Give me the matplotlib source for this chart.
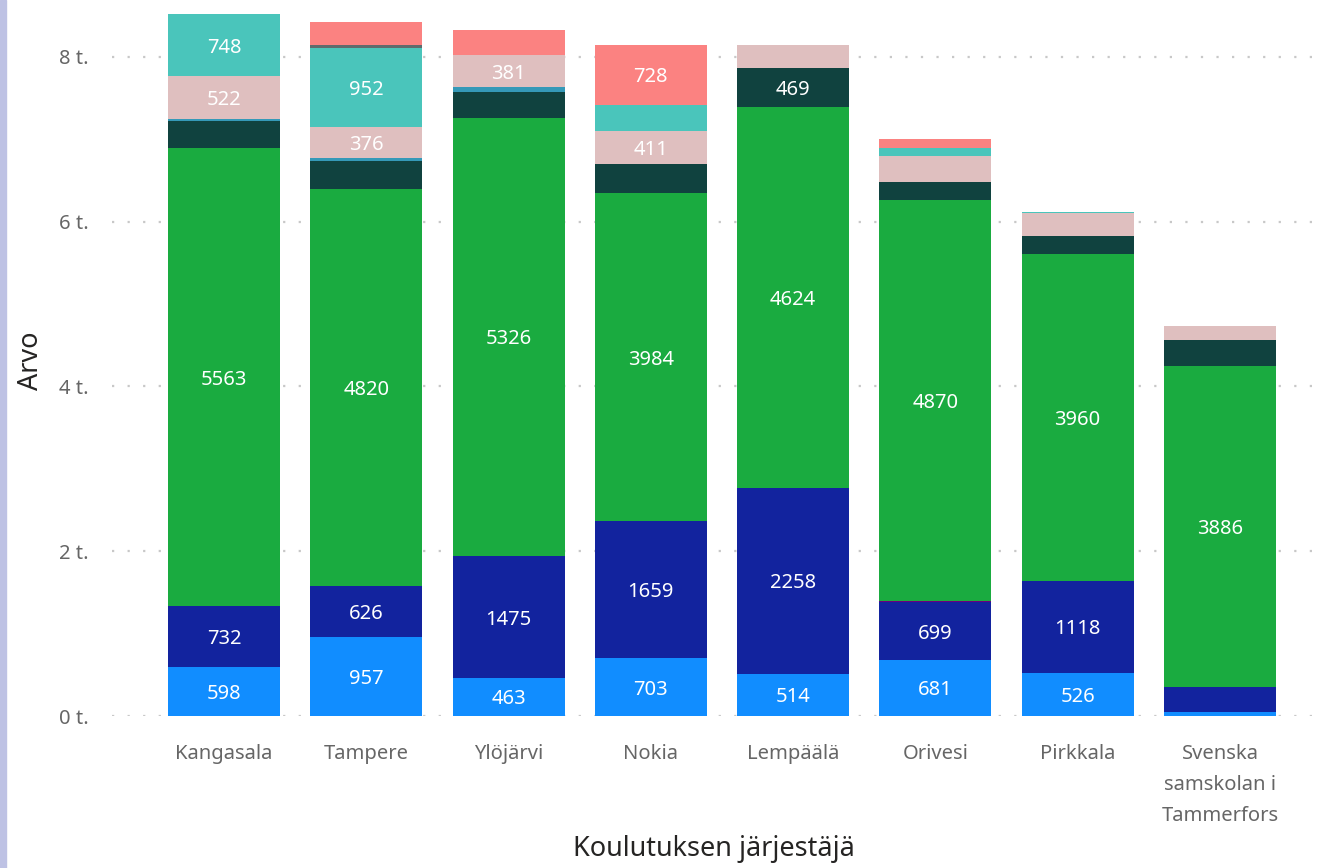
import matplotlib.pyplot as plt
import matplotlib.patches as mpatches
import numpy as np

plt.rcParams['font.family'] = ['Noto Sans', 'DejaVu Sans']

# data (bottom segment first)
jarjestajat = ['Kangasala', 'Tampere', 'Ylöjärvi', 'Nokia', 'Lempäälä',
               'Orivesi', 'Pirkkala', 'Svenska\nsamskolan i\nTammerfors']

vaaleansininen = [598, 957, 463, 703, 514, 681, 526, 50]
tummansininen = [732, 626, 1475, 1659, 2258, 699, 1118, 300]
violetti = [0, 0, 0, 0, 0, 10, 0, 8]
vihrea = [5563, 4820, 5326, 3984, 4624, 4870, 3960, 3886]
tummanvihrea = [330, 330, 305, 350, 469, 220, 220, 315]
sininen = [25, 45, 70, 0, 0, 0, 0, 0]
roosa = [522, 376, 381, 411, 280, 315, 280, 180]
turkoosi = [748, 952, 0, 315, 0, 100, 12, 0]
harmaa = [0, 35, 0, 0, 0, 0, 0, 0]
punainen = [0, 280, 305, 728, 0, 110, 0, 0]

sarjat = [vaaleansininen, tummansininen, violetti, vihrea, tummanvihrea,
          sininen, roosa, turkoosi, harmaa, punainen]
varit = ['#118DFF', '#12239E', '#6B007B', '#1AAB40', '#10423F',
         '#3599B8', '#DFBFBF', '#4AC5BB', '#5F6B6D', '#FB8281']

fig = plt.figure(figsize=(13.21, 8.68), dpi=100)
ax = fig.add_axes([112/1321, 1 - 716/868, (1315-112)/1321, (716-5)/868])

# vasemman reunan raita
fig.patches.append(mpatches.Rectangle((0, 0), 6/1321, 1, transform=fig.transFigure,
                                      color='#BEC2E4', zorder=0))

x = np.arange(len(jarjestajat))
pohja = np.zeros(len(jarjestajat))
for arvot, vari in zip(sarjat, varit):
    arvot = np.array(arvot, dtype=float)
    ax.bar(x, arvot, bottom=pohja, width=0.787, color=vari, linewidth=0, zorder=2)
    for xi, b, v in zip(x, pohja, arvot):
        if v >= 360:
            ax.text(xi, b + v/2, str(int(v)), ha='center', va='center_baseline',
                    color='white', fontsize=14.5, zorder=3)
    pohja += arvot

ax.set_xlim(-0.787, 7.668)
ax.set_ylim(0, 8631)
ax.set_yticks([0, 2000, 4000, 6000, 8000])
ax.set_yticklabels(['0 t.', '2 t.', '4 t.', '6 t.', '8 t.'])
ax.set_xticks(x)
ax.set_xticklabels(jarjestajat, linespacing=1.75)
ax.tick_params(axis='both', length=0, labelsize=14.5, colors='#666666')
ax.tick_params(axis='y', pad=17)
ax.tick_params(axis='x', pad=20)
ax.yaxis.grid(True, color='#C8C8C8', linestyle=(0, (1, 6)), linewidth=1.6, zorder=0)
for s in ax.spines.values():
    s.set_visible(False)

ax.set_ylabel('Arvo', fontsize=19.5, color='#252423', labelpad=10)
ax.set_xlabel('Koulutuksen järjestäjä', fontsize=19.5, color='#252423', labelpad=6)

fig.savefig('out.png', dpi=100)
